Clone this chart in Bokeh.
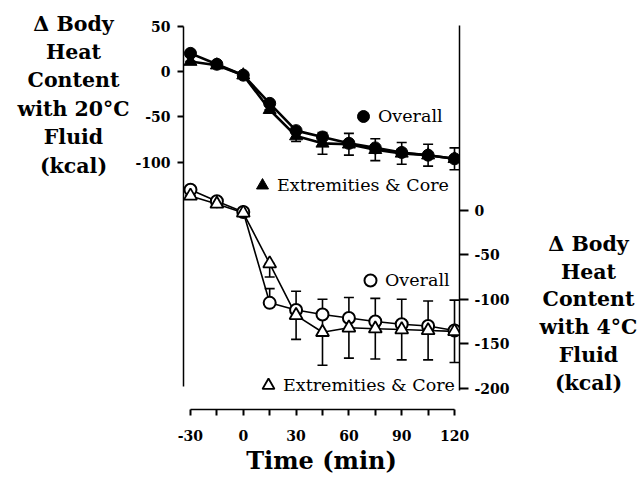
from bokeh.plotting import figure
from bokeh.layouts import row
from bokeh.models import (Range1d, LinearAxis, FixedTicker, Whisker, ColumnDataSource,
                          Legend, LegendItem, TeeHead)
from bokeh.core.properties import value
from bokeh.embed import file_html
from bokeh.resources import INLINE

# ---------------- data ----------------
times = [-30, -15, 0, 15, 30, 45, 60, 75, 90, 105, 120]

# 20 °C fluid (left axis)
warm_overall = [20, 8, -4, -35, -65, -72, -79, -84, -89, -92, -96]
warm_extrem = [11, 7, -4, -42, -71, -79, -80, -86, -90, -92, -96]
warm_extrem_err = [0, 0, 0, 0, 6, 12, 12, 12, 12, 12, 12]

# 4 °C fluid (right axis)
cold_overall = [23, 10, -2, -104, -112, -117, -121, -125, -128, -130, -135]
cold_overall_err_up = [0, 0, 0, 16, 0, 0, 0, 0, 0, 0, 0]
cold_extrem = [16, 7, -3, -60, -118, -137, -132, -133, -134, -135, -136]
cold_extrem_err_up = [0, 0, 0, 0, 27, 37, 34, 34, 34, 33, 35]
cold_extrem_err_dn = [0, 0, 0, 15, 27, 37, 34, 34, 34, 33, 35]

x_major = [-30, 0, 30, 60, 90, 120]
x_minor = [-15, 15, 45, 75, 105]
x_labels = ["-30", "0", "30", "60", "90", "120"]
left_ticks = [50, 0, -50, -100]
left_labels = ["50", "0", "-50", "-100"]
right_ticks = [0, -50, -100, -150, -200]
right_labels = ["0", "-50", "-100", "-150", "-200"]

left_title = ["\u0394 Body", "Heat", "Content", "with 20\u00b0C", "Fluid", "(kcal)"]
right_title = ["\u0394 Body", "Heat", "Content", "with 4\u00b0C", "Fluid", "(kcal)"]
x_title = "Time (min)"
legend_labels = ["Overall", "Extremities & Core"]

SERIF = "DejaVu Serif"
H = 477
FRAME_TOP, FRAME_BOTTOM = 5, 413

# ---------------- main figure ----------------
p = figure(width=388, height=H, output_backend="svg", toolbar_location=None,
           x_range=Range1d(-33.96, 122.83), y_range=Range1d(-371.8, 72.66),
           min_border_left=50, min_border_right=61, min_border_top=FRAME_TOP,
           min_border_bottom=H - FRAME_BOTTOM)
p.extra_y_ranges = {"right": Range1d(-223.7, 229.7)}
p.outline_line_color = None
p.xgrid.grid_line_color = None
p.ygrid.grid_line_color = None

# x axis
xa = p.xaxis[0]
xa.ticker = FixedTicker(ticks=x_major, minor_ticks=x_minor)
xa.major_label_overrides = {t: s for t, s in zip(x_major, x_labels)}
xa.bounds = (-30, 120)
xa.major_tick_in = 0
xa.major_tick_out = 6
xa.minor_tick_in = 0
xa.minor_tick_out = 6
xa.major_tick_line_width = 2
xa.minor_tick_line_width = 2
xa.axis_line_width = 1.5
xa.major_label_standoff = 14
xa.major_label_text_font = SERIF
xa.major_label_text_font_style = "bold"
xa.major_label_text_font_size = "14px"
xa.major_label_text_color = "black"
xa.axis_label = x_title
xa.axis_label_standoff = 2
xa.axis_label_text_font = SERIF
xa.axis_label_text_font_style = "bold"
xa.axis_label_text_font_size = "24px"
xa.axis_label_text_color = "black"

# left axis
ya = p.yaxis[0]
ya.ticker = FixedTicker(ticks=left_ticks)
ya.major_label_overrides = {t: s for t, s in zip(left_ticks, left_labels)}
ya.bounds = (-347, 50)
ya.minor_tick_line_color = None
ya.major_tick_in = 0
ya.major_tick_out = 6
ya.major_tick_line_width = 2
ya.axis_line_width = 1.5
ya.major_label_standoff = 7
ya.major_label_text_font = SERIF
ya.major_label_text_font_style = "bold"
ya.major_label_text_font_size = "14px"
ya.major_label_text_color = "black"

# right axis
ra = LinearAxis(y_range_name="right", ticker=FixedTicker(ticks=right_ticks),
                major_label_overrides={t: s for t, s in zip(right_ticks, right_labels)},
                bounds=(-202, 207))
ra.minor_tick_line_color = None
ra.major_tick_in = 0
ra.major_tick_out = 9
ra.major_tick_line_width = 2
ra.axis_line_width = 1.5
ra.major_label_standoff = 6
ra.major_label_text_font = SERIF
ra.major_label_text_font_style = "bold"
ra.major_label_text_font_size = "14px"
ra.major_label_text_color = "black"
p.add_layout(ra, "right")

# ---------------- sources ----------------
warm = ColumnDataSource(dict(
    t=times, overall=warm_overall, extrem=warm_extrem,
    lo=[v - e for v, e in zip(warm_extrem, warm_extrem_err)],
    hi=[v + e for v, e in zip(warm_extrem, warm_extrem_err)]))
cold = ColumnDataSource(dict(
    t=times, overall=cold_overall, extrem=cold_extrem,
    o_lo=cold_overall, o_hi=[v + e for v, e in zip(cold_overall, cold_overall_err_up)],
    e_lo=[v - e for v, e in zip(cold_extrem, cold_extrem_err_dn)],
    e_hi=[v + e for v, e in zip(cold_extrem, cold_extrem_err_up)]))


def mk_whisker(src, lo, hi, rng=None):
    kw = dict(base="t", lower=lo, upper=hi, source=src, line_width=1.6, line_color="black",
              upper_head=TeeHead(size=10, line_width=1.6, line_color="black"),
              lower_head=TeeHead(size=10, line_width=1.6, line_color="black"),
              level="underlay")
    if rng:
        kw["y_range_name"] = rng
    return Whisker(**kw)


p.add_layout(mk_whisker(warm, "lo", "hi"))
p.add_layout(mk_whisker(cold, "e_lo", "e_hi", "right"))
p.add_layout(mk_whisker(cold, "o_lo", "o_hi", "right"))

# warm lines & markers
p.line("t", "overall", source=warm, line_color="black", line_width=2.6)
p.line("t", "extrem", source=warm, line_color="black", line_width=2.6)
r_wo = p.scatter("t", "overall", source=warm, marker="circle", size=12,
                 fill_color="black", line_color="black")
r_we = p.scatter("t", "extrem", source=warm, marker="triangle", size=13,
                 fill_color="black", line_color="black")

# cold lines & markers
p.line("t", "overall", source=cold, line_color="black", line_width=1.6, y_range_name="right")
p.line("t", "extrem", source=cold, line_color="black", line_width=1.6, y_range_name="right")
r_co = p.scatter("t", "overall", source=cold, marker="circle", size=12, y_range_name="right",
                 fill_color="white", line_color="black", line_width=2)
r_ce = p.scatter("t", "extrem", source=cold, marker="triangle", size=13, y_range_name="right",
                 fill_color="white", line_color="black", line_width=1.8)


# ---------------- legends ----------------
def mk_legend(label, rend, loc):
    return Legend(items=[LegendItem(label=label, renderers=[rend])], location=loc,
                  glyph_width=30, glyph_height=30, label_standoff=0, padding=0, margin=0,
                  spacing=0, border_line_color=None, background_fill_alpha=0,
                  label_text_font=SERIF, label_text_font_size="17.5px",
                  label_text_color="black", label_height=30)


# locations in pixels from the frame's bottom-left corner
p.add_layout(mk_legend(legend_labels[0], r_wo, (165, 278)))
p.add_layout(mk_legend(legend_labels[1], r_we, (64, 209)))
p.add_layout(mk_legend(legend_labels[0], r_co, (172, 114)))
p.add_layout(mk_legend(legend_labels[1], r_ce, (70, 9)))


# ---------------- side titles ----------------
def side_title(lines, x0, x1, xc, ys):
    f = figure(width=x1 - x0, height=H, output_backend="svg", toolbar_location=None,
               x_range=Range1d(x0, x1), y_range=Range1d(FRAME_BOTTOM, FRAME_TOP),
               x_axis_type=None, y_axis_type=None, min_border=0)
    f.outline_line_color = None
    f.xgrid.grid_line_color = None
    f.ygrid.grid_line_color = None
    src = ColumnDataSource(dict(x=[xc] * len(lines), y=ys, t=lines))
    f.text("x", "y", text="t", source=src, text_align="center", text_baseline="middle",
           text_font=value(SERIF), text_font_style="bold", text_font_size="20.5px",
           text_color="black")
    return f


left_y = [23.3, 52.0, 80.7, 109.4, 138.1, 166.8]
right_y = [245.5, 273.7, 301.9, 330.1, 358.3, 386.5]
fl = side_title(left_title, 0, 132, 73, left_y)
fr = side_title(right_title, 520, 640, 588, right_y)

layout = row(fl, p, fr)
open("out.html", "w").write(file_html(layout, INLINE))
